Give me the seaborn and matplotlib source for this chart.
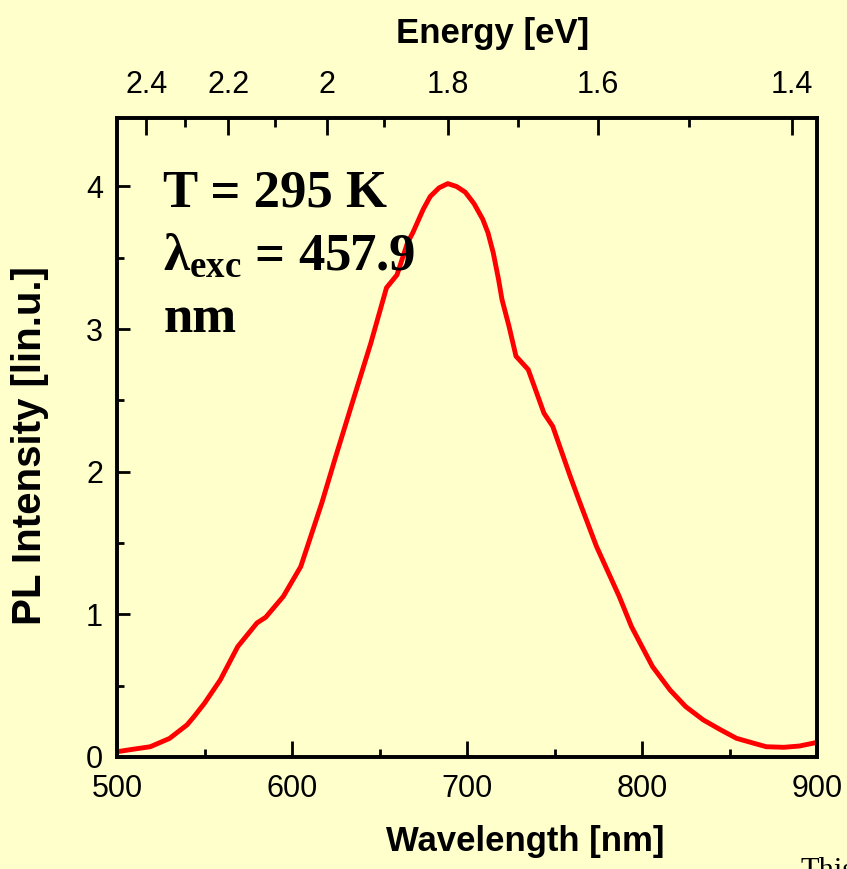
import numpy as np
import matplotlib
matplotlib.use("Agg")
import matplotlib.pyplot as plt
from matplotlib import font_manager
import seaborn as sns

# PL spectrum
wavelength_nm = [500, 509, 519, 530, 540, 544, 550, 559, 569, 580, 585, 595, 605, 610,
                 617, 625, 635, 645, 654, 660, 666, 669, 675, 679, 684, 689, 694, 699,
                 704, 709, 712, 715, 718, 720, 724, 728, 735, 744, 749, 759, 764, 774,
                 787, 794, 806, 816, 825, 835, 845, 854, 864, 871, 881, 890, 899]
pl_intensity = [0.037, 0.054, 0.072, 0.13, 0.225, 0.283, 0.377, 0.54, 0.774, 0.94,
                0.98, 1.125, 1.335, 1.52, 1.78, 2.107, 2.505, 2.90, 3.29, 3.38,
                3.605, 3.675, 3.84, 3.93, 3.99, 4.02, 4.0, 3.96, 3.88, 3.77, 3.675,
                3.535, 3.35, 3.207, 3.02, 2.81, 2.716, 2.41, 2.318, 1.967, 1.80,
                1.476, 1.125, 0.914, 0.634, 0.47, 0.353, 0.26, 0.19, 0.131, 0.096,
                0.072, 0.068, 0.077, 0.10]

# top axis: photon energy
energy_major = [2.4, 2.2, 2.0, 1.8, 1.6, 1.4]
energy_labels = ["2.4", "2.2", "2", "1.8", "1.6", "1.4"]
energy_minor = [2.3, 2.1, 1.9, 1.7, 1.5]
HC = 1240.0  # eV*nm

bg = "#FFFFCC"
sns.set_style("ticks")
plt.rcParams["font.family"] = ["Liberation Sans", "DejaVu Sans"]
for k in ["text.color", "axes.labelcolor", "xtick.color", "ytick.color", "axes.edgecolor"]:
    plt.rcParams[k] = "black"
plt.rcParams["mathtext.fontset"] = "custom"
plt.rcParams["mathtext.bf"] = "Liberation Serif:bold"
plt.rcParams["mathtext.rm"] = "Liberation Serif:bold"
plt.rcParams["mathtext.it"] = "Liberation Serif:bold"

# tick labels in the reference use a narrow sans face
names = {f.name for f in font_manager.fontManager.ttflist}
if "Liberation Sans Narrow" in names:
    tick_family, tick_size = "Liberation Sans Narrow", 25
else:
    tick_family, tick_size = "Liberation Sans", 22

fig = plt.figure(figsize=(8.47, 8.69), dpi=100, facecolor=bg)
ax = fig.add_axes([117 / 847, 112 / 869, 700 / 847, 639 / 869])
ax.set_facecolor(bg)

sns.lineplot(x=wavelength_nm, y=pl_intensity, color="red", lw=3.5, ax=ax, zorder=2)
ax.lines[0].set_solid_joinstyle("round")

ax.set_xlim(500, 900)
ax.set_ylim(0, 4.48)
ax.set_xticks([500, 600, 700, 800, 900])
ax.set_xticks([550, 650, 750, 850], minor=True)
ax.set_yticks([0, 1, 2, 3, 4])
ax.set_yticks([0.5, 1.5, 2.5, 3.5], minor=True)

for s in ax.spines.values():
    s.set_linewidth(2.6)
    s.set_visible(True)

ax.tick_params(axis="x", which="major", direction="in", length=11.5, width=2,
               labelsize=tick_size, pad=12, top=False)
ax.tick_params(axis="x", which="minor", direction="in", length=6, width=2, top=False)
ax.tick_params(axis="y", which="major", direction="in", length=9, width=2,
               labelsize=tick_size, pad=10, right=False)
ax.tick_params(axis="y", which="minor", direction="in", length=5, width=2, right=False)
for lab in ax.get_xticklabels() + ax.get_yticklabels():
    lab.set_family(tick_family)

ax.set_xlabel("Wavelength [nm]", fontsize=25, fontweight="bold")
ax.set_ylabel("PL Intensity [lin.u.]", fontsize=29, fontweight="bold")
ax.xaxis.set_label_coords(0.583, -0.106)
ax.yaxis.set_label_coords(-0.097, 0.488)

# energy axis on top
top = ax.twiny()
top.set_xlim(ax.get_xlim())
top.set_xticks([HC / e for e in energy_major])
top.set_xticklabels(energy_labels)
top.set_xticks([HC / e for e in energy_minor], minor=True)
top.tick_params(axis="x", which="major", direction="in", length=12, width=2,
                labelsize=tick_size, pad=13)
top.tick_params(axis="x", which="minor", direction="in", length=6.5, width=2)
for lab in top.get_xticklabels():
    lab.set_family(tick_family)
top.set_xlabel("Energy [eV]", fontsize=25, fontweight="bold")
top.xaxis.set_label_coords(0.537, 1.118)
for s in top.spines.values():
    s.set_linewidth(2.6)

# annotation block
txt_kw = dict(transform=ax.transAxes, fontsize=38, fontweight="bold",
              family="Liberation Serif", va="baseline", ha="left", zorder=5)
ax.text(0.066, 0.862, "T = 295 K", **txt_kw)
ax.text(0.066, 0.762, r"$\mathbf{\lambda_{exc}}$ = 457.9", **txt_kw)
ax.text(0.066, 0.665, "nm", **txt_kw)

fig.text(800 / 847, -0.012, "This", fontsize=22, family="Liberation Serif",
         va="baseline", ha="left")

fig.savefig("out.png", dpi=100, facecolor=bg)
